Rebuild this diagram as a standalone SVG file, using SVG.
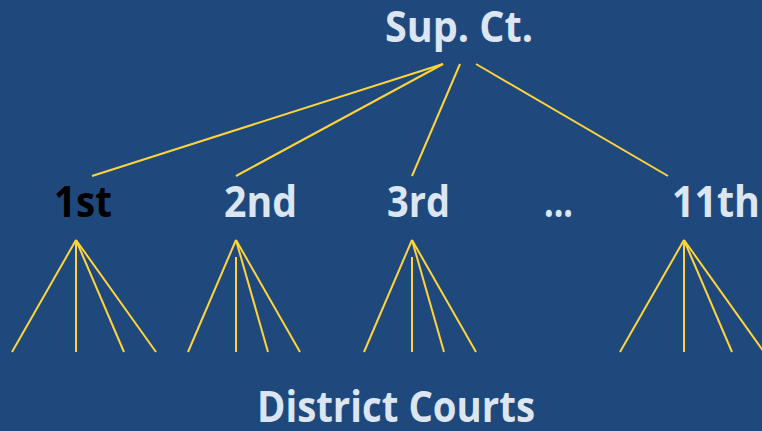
<svg xmlns="http://www.w3.org/2000/svg" width="762" height="431" viewBox="0 0 762 431">
  <style>
    .lbl { font-family: "Open Sans", "Liberation Sans", sans-serif; font-weight: bold; font-size: 43px; fill: #DCE6F2; }
    .dark { fill: #000000; }
    .edge { stroke: #FFD43B; stroke-width: 2; fill: none; stroke-linecap: butt; }
  </style>
  <rect x="0" y="0" width="762" height="431" fill="#1F497D"/>

  <g id="connectors">
    <!-- Supreme Court to circuits -->
    <line class="edge" x1="443" y1="64" x2="92" y2="176"/>
    <line class="edge" x1="443" y1="64" x2="236" y2="176"/>
    <line class="edge" x1="460" y1="64" x2="412" y2="176"/>
    <line class="edge" x1="476" y1="64" x2="668" y2="176"/>
    <!-- 1st circuit fan -->
    <line class="edge" x1="76" y1="240" x2="12" y2="352"/>
    <line class="edge" x1="76" y1="240" x2="76" y2="352"/>
    <line class="edge" x1="76" y1="240" x2="124" y2="352"/>
    <line class="edge" x1="76" y1="240" x2="156" y2="352"/>
    <!-- 2nd circuit fan -->
    <line class="edge" x1="236" y1="240" x2="188" y2="352"/>
    <line class="edge" x1="236" y1="257" x2="236" y2="352"/>
    <line class="edge" x1="236" y1="240" x2="268" y2="352"/>
    <line class="edge" x1="236" y1="240" x2="300" y2="352"/>
    <!-- 3rd circuit fan -->
    <line class="edge" x1="412" y1="240" x2="364" y2="352"/>
    <line class="edge" x1="412" y1="257" x2="412" y2="352"/>
    <line class="edge" x1="412" y1="240" x2="444" y2="352"/>
    <line class="edge" x1="412" y1="240" x2="476" y2="352"/>
    <!-- 11th circuit fan -->
    <line class="edge" x1="684" y1="240" x2="620" y2="352"/>
    <line class="edge" x1="684" y1="240" x2="684" y2="352"/>
    <line class="edge" x1="684" y1="240" x2="732" y2="352"/>
    <line class="edge" x1="684" y1="240" x2="764" y2="352"/>
  </g>

  <g id="supreme-court">
    <text class="lbl" x="385" y="42" textLength="148" lengthAdjust="spacingAndGlyphs">Sup. Ct.</text>
  </g>
  <g id="circuit-1">
    <text class="lbl dark" x="54" y="217" textLength="58" lengthAdjust="spacingAndGlyphs">1st</text>
  </g>
  <g id="circuit-2">
    <text class="lbl" x="224" y="217" textLength="73" lengthAdjust="spacingAndGlyphs">2nd</text>
  </g>
  <g id="circuit-3">
    <text class="lbl" x="387" y="217" textLength="63" lengthAdjust="spacingAndGlyphs">3rd</text>
  </g>
  <g id="circuit-more">
    <text class="lbl" x="544" y="217" textLength="29" lengthAdjust="spacingAndGlyphs">...</text>
  </g>
  <g id="circuit-11">
    <text class="lbl" x="672" y="217" textLength="88" lengthAdjust="spacingAndGlyphs">11th</text>
  </g>
  <g id="district-courts">
    <text class="lbl" x="257" y="422" textLength="278" lengthAdjust="spacingAndGlyphs">District Courts</text>
  </g>
</svg>
